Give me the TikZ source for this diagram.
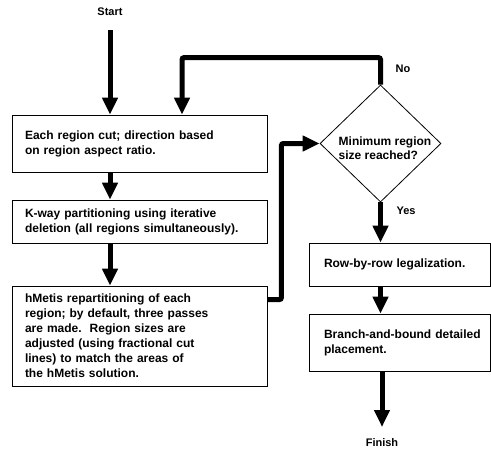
\documentclass[tikz,border=0pt]{standalone}
\usepackage{fontspec}
\setmainfont{Liberation Sans}
\usetikzlibrary{arrows.meta,shapes.geometric}
\hfuzz=100pt
\hbadness=10000
\begin{document}
\begin{tikzpicture}[x=1pt,y=-1pt,
  box/.style={draw=black,line width=0.8pt,fill=white,inner xsep=13pt,inner ysep=0pt,
    align=left,font=\fontsize{12}{15}\selectfont\bfseries},
  dec/.style={draw=black,line width=0.8pt,shape=diamond,inner sep=0pt,
    minimum width=121pt,minimum height=117pt},
  lbl/.style={font=\fontsize{11}{13}\selectfont\bfseries,inner sep=0pt},
  arr/.style={line width=5pt,-{Triangle[width=15pt,length=17pt]},rounded corners=2pt}]
\useasboundingbox (0,0) rectangle (491,458);
\node[lbl] (st) at (110,12) {Start};
\node[box,text width=229pt,minimum height=57pt] (b1) at (139.5,143.5)
  {Each region cut; direction based\\on region aspect ratio.};
\node[box,text width=229pt,minimum height=43pt] (b2) at (139.5,221.5)
  {K-way partitioning using iterative\\deletion (all regions simultaneously).};
\node[box,text width=229pt,minimum height=100pt] (b3) at (139.5,336)
  {hMetis repartitioning of each\\region; by default, three passes\\are made.\ \ Region sizes are\\adjusted (using fractional cut\\lines) to match the areas of\\the hMetis solution.};
\node[dec] (d) at (380.5,143.5) {};
\node[align=left,inner sep=0pt,font=\fontsize{12}{14}\selectfont\bfseries] (dt) at (385,148)
  {Minimum region\\size reached?};
\node[box,inner xsep=15pt,text width=151pt,minimum height=43pt] (b4) at (399.5,264.5)
  {Row-by-row legalization.};
\node[box,inner xsep=15pt,text width=151pt,minimum height=57pt] (b5) at (399.5,342.5)
  {\mbox{Branch-and-bound detailed}\\placement.};
\node[lbl] (fin) at (382,443) {Finish};
\node[lbl] (no) at (403,69) {No};
\node[lbl] (yes) at (406,211) {Yes};
% connectors
\draw[arr] ([yshift=-18pt]st.center) -- (st.center |- b1.north);
\draw[arr] (st.center |- b1.south) -- (st.center |- b2.north);
\draw[arr] (st.center |- b2.south) -- (st.center |- b3.north);
\draw[arr] ([yshift=-14pt]b3.north east) -- ++(14,0) |- (d.west);
\draw[arr] (d.north) -- ++(0,-27) -| ([xshift=42.5pt]b1.north);
\draw[arr] (d.south) -- (d.south |- b4.north);
\draw[arr] (d.south |- b4.south) -- (d.south |- b5.north);
\draw[arr] (fin.center |- b5.south) -- ([yshift=16pt]fin.center);
\end{tikzpicture}
\end{document}
